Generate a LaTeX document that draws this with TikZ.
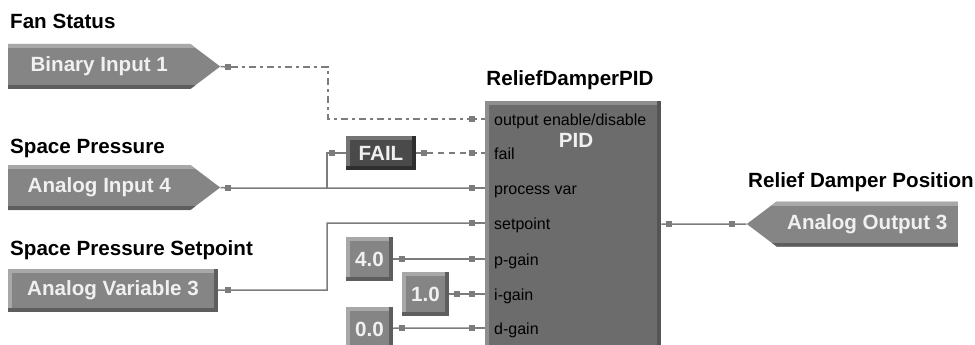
\documentclass[tikz,border=0pt]{standalone}
\usepackage{fontspec}
\setmainfont{Liberation Sans}
\usetikzlibrary{shapes.symbols}

\definecolor{boxgray}{HTML}{858585}
\definecolor{boxlight}{HTML}{A8A8A8}
\definecolor{boxdark}{HTML}{5E5E5E}
\definecolor{failgray}{HTML}{4A4A4A}
\definecolor{faillight}{HTML}{747474}
\definecolor{faildark}{HTML}{2E2E2E}
\definecolor{pidgray}{HTML}{6C6C6C}
\definecolor{pidlight}{HTML}{8E8E8E}
\definecolor{piddark}{HTML}{555555}
\definecolor{wiregray}{HTML}{7C7C7C}
\definecolor{boxtext}{HTML}{F0F0F0}

\newcommand\lblfont{\fontsize{20.6}{22}\selectfont\bfseries}
\newcommand\portfont{\fontsize{16}{18}\selectfont}

\tikzset{
  shadetb/.style 2 args={path picture={%
    \fill[#1] (path picture bounding box.north west) rectangle ([yshift=-4pt]path picture bounding box.north east);
    \fill[#2] ([yshift=4pt]path picture bounding box.south west) rectangle (path picture bounding box.south east);}},
  shadeall/.style 2 args={path picture={%
    \fill[#1] (path picture bounding box.north west) rectangle ([yshift=-4pt]path picture bounding box.north east);
    \fill[#1] (path picture bounding box.north west) rectangle ([xshift=4pt]path picture bounding box.south west);
    \fill[#2] ([yshift=4pt]path picture bounding box.south west) rectangle (path picture bounding box.south east);
    \fill[#2] ([xshift=-4pt]path picture bounding box.north east) rectangle (path picture bounding box.south east);}},
}

\begin{document}
\begin{tikzpicture}[x=1pt,y=-1pt,
  lbl/.style={anchor=base west,inner sep=0pt,font=\lblfont},
  portlbl/.style={anchor=base west,inner sep=0pt,font=\portfont},
  stub/.style={rectangle,fill=wiregray,minimum size=6pt,inner sep=0pt},
  wire/.style={draw=wiregray,line width=1.5pt},
  dashdot/.style={wire,dash pattern=on 7pt off 4pt on 3pt off 4pt},
  dashwire/.style={wire,dash pattern=on 6pt off 5pt},
  sigbox/.style={shape=signal,signal from=nowhere,fill=boxgray,shadetb={boxlight}{boxdark},
    minimum height=45pt,signal pointer angle=74,text=boxtext,font=\lblfont,inner sep=0pt},
  inbox/.style={sigbox,signal to=east,minimum width=212pt},
  outbox/.style={sigbox,signal to=west,minimum width=211pt},
  plainbox/.style={rectangle,fill=boxgray,shadeall={boxlight}{boxdark},minimum width=210pt,
    minimum height=43pt,text=boxtext,font=\lblfont,inner sep=0pt},
  valbox/.style={rectangle,fill=boxgray,shadeall={boxlight}{boxdark},minimum width=47pt,
    minimum height=44pt,text=boxtext,font=\lblfont,inner sep=0pt},
  failbox/.style={rectangle,fill=failgray,shadeall={faillight}{faildark},minimum width=70pt,
    minimum height=34pt,text=boxtext,font=\lblfont,inner sep=0pt},
  pidbox/.style={rectangle,fill=pidgray,shadeall={pidlight}{piddark},minimum width=176pt,
    minimum height=280pt,inner sep=0pt}]
\useasboundingbox (0,0) rectangle (975,345);
\clip (0,0) rectangle (975,345);

% titles
\node[lbl] (lfan) at (10,29) {Fan Status};
\node[lbl] (lsp) at (10,153) {Space Pressure};
\node[lbl] (lsps) at (10,255) {Space Pressure Setpoint};
\node[lbl] (lrdp) at (748,187) {Relief Damper Position};
\node[lbl,anchor=base] (lpid) at (570,85) {ReliefDamperPID};

% points
\node[inbox,anchor=west] (bi1) at (8,66.5) {Binary Input 1};
\node[inbox,anchor=west] (ai4) at (8,187.5) {Analog Input 4};
\node[plainbox] (av3) at (113,290.5) {Analog Variable 3};
\node[outbox,anchor=east] (ao3) at (958,224) {Analog Output 3};
\node[failbox] (fail) at (381,153) {FAIL};
\node[valbox] (v40) at (369.5,259) {4.0};
\node[valbox] (v10) at (425.5,294) {1.0};
\node[valbox] (v00) at (369.5,329) {0.0};

% PID block
\node[pidbox,anchor=north west] (pid) at (485,101) {};
\node[font=\lblfont,text=boxtext,anchor=base] (pidt) at (576,147) {PID};
\foreach \nm/\txt/\yy in {oe/{output enable/disable}/119, fl/fail/153, pv/{process var}/188,
    sp/setpoint/223, pg/p-gain/259, ig/i-gain/294, dg/d-gain/328}{
  \node[stub] (p\nm) at (472,\yy) {};
  \node[portlbl] (t\nm) at (494,\yy+6) {\txt};
}

% stubs
\node[stub] (sbi1) at (228,67) {};
\node[stub] (sai4) at (228,188) {};
\node[stub] (sav3) at (228,290) {};
\node[stub] (sfin) at (332,153) {};
\node[stub] (sfout) at (424,153) {};
\node[stub] (s40) at (402,259) {};
\node[stub] (s10) at (457,294) {};
\node[stub] (s00) at (402,328) {};
\node[stub] (sout) at (669,224) {};
\node[stub] (sao3) at (732,224) {};
\coordinate (kfan) at (328,119);
\coordinate (kpv) at (327,188);
\coordinate (ksp) at (327,223);

% wires
\draw[wire] (bi1.east) -- (sbi1);
\draw[dashdot] (sbi1) -| (kfan) -- (poe);
\draw[wire] (ai4.east) -- (sai4) -- (ppv);
\draw[wire] (kpv) |- (sfin) -- (fail);
\draw[wire] (fail) -- (sfout);
\draw[dashwire] (sfout) -- (pfl);
\draw[wire] (av3) -- (sav3) -| (ksp) -- (psp);
\draw[wire] (v40) -- (s40) -- (ppg);
\draw[wire] (v10) -- (s10) -- (pig);
\draw[wire] (v00) -- (s00) -- (pdg);
\foreach \nm in {oe,fl}
  \draw[wire,dash pattern=on 2pt off 4pt on 10pt] (p\nm) -- (pid.west |- p\nm);
\foreach \nm in {pv,sp,pg,ig,dg}
  \draw[wire] (p\nm) -- (pid.west |- p\nm);
\draw[wire] (pid.east |- sout) -- (sout) -- (sao3) -- (ao3);
\end{tikzpicture}
\end{document}
